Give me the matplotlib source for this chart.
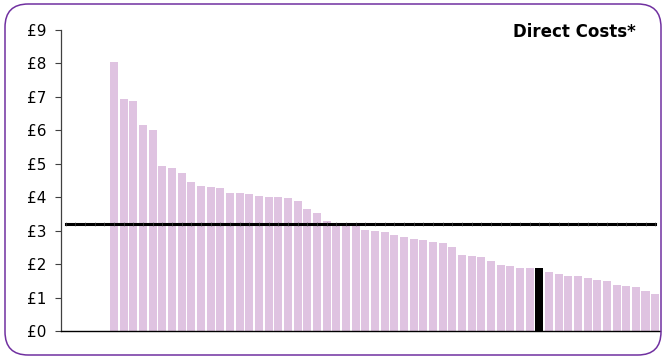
import numpy as np
import matplotlib
matplotlib.use("Agg")
import matplotlib.pyplot as plt
from matplotlib.patches import FancyBboxPatch

# cost per unit, sorted high to low
direct_costs = [
    8.04, 6.93, 6.87, 6.15, 6.00, 4.93, 4.87, 4.71, 4.46, 4.34,
    4.30, 4.26, 4.12, 4.12, 4.10, 4.03, 4.01, 4.01, 3.96, 3.87,
    3.64, 3.52, 3.30, 3.24, 3.21, 3.20, 3.01, 2.99, 2.96, 2.87,
    2.80, 2.75, 2.71, 2.66, 2.64, 2.50, 2.27, 2.24, 2.20, 2.09,
    1.96, 1.94, 1.89, 1.87, 1.87, 1.77, 1.71, 1.64, 1.64, 1.59,
    1.53, 1.50, 1.37, 1.33, 1.30, 1.19, 1.11,
]
highlight_index = 44
average_cost = 3.19
n_blank_slots = 5
y_ticks = list(range(0, 10))
y_tick_labels = ["£%d" % v for v in y_ticks]
title = "Direct Costs*"

bar_color = "#dfc3e1"
highlight_color = "#000000"
border_color = "#7030a0"

fig = plt.figure(figsize=(6.63, 3.58), dpi=100)
ax = fig.add_axes([61 / 663, 27 / 358, 599 / 663, 301.3 / 358])

x = np.arange(len(direct_costs))
colors = [highlight_color if i == highlight_index else bar_color for i in x]
ax.bar(x, direct_costs, width=0.83, color=colors, linewidth=0, zorder=2)

# average line across every slot, including the empty ones on the left
line_x = np.arange(-n_blank_slots, len(direct_costs))
ax.plot(line_x, [average_cost] * len(line_x), color="black", lw=2.2,
        marker="|", markersize=3.2, markeredgewidth=0.4,
        markeredgecolor="#555555", zorder=3)

ax.set_xlim(-n_blank_slots - 0.5, len(direct_costs) - 0.5)
ax.set_ylim(0, 9)
ax.set_yticks(y_ticks)
ax.set_yticklabels(y_tick_labels, fontsize=11)
ax.set_xticks([])
ax.tick_params(axis="y", length=4.5, width=0.8, pad=6, color="#404040")

for side in ("top", "right"):
    ax.spines[side].set_visible(False)
ax.spines["left"].set_color("#404040")
ax.spines["left"].set_linewidth(0.9)
ax.spines["bottom"].set_color("black")
ax.spines["bottom"].set_linewidth(1.0)

fig.text(636 / 663, 1 - 37 / 358, title, ha="right", va="baseline",
         fontsize=12, fontweight="bold")

# rounded frame around the whole chart
frame = FancyBboxPatch((5 / 663, 3 / 358), 656 / 663, 351 / 358,
                       boxstyle="round,pad=0,rounding_size=0.035",
                       transform=fig.transFigure, fill=False,
                       edgecolor=border_color, linewidth=1.1,
                       mutation_aspect=663 / 358)
fig.patches.append(frame)

fig.savefig("out.png", dpi=100)
